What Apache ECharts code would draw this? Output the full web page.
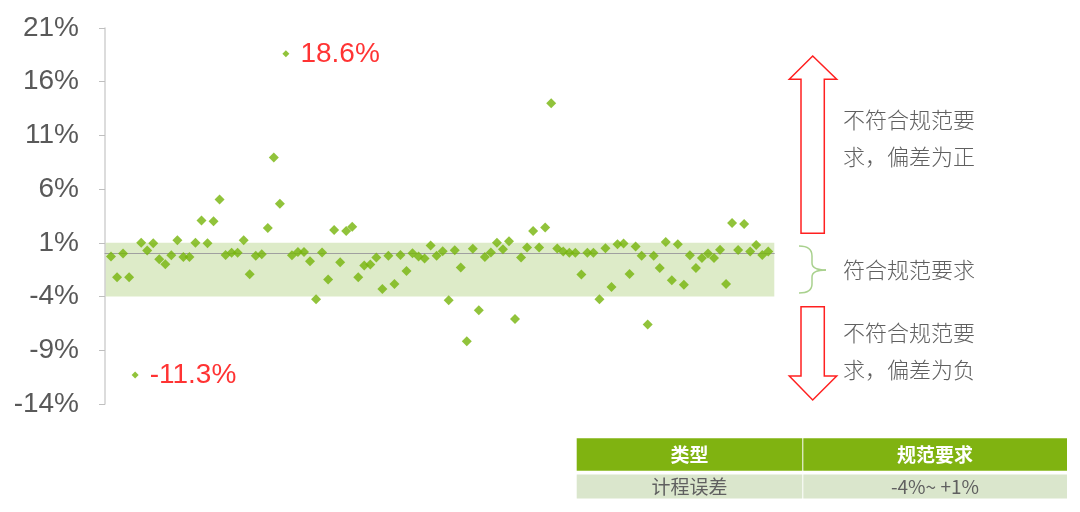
<!DOCTYPE html>
<html>
<head>
<meta charset="utf-8">
<script src="https://cdn.jsdelivr.net/npm/echarts@6/dist/echarts.min.js"></script>
<style>
html,body{margin:0;padding:0;background:#fff;}
#main{width:1080px;height:512px;}
</style>
</head>
<body>
<div id="main"></div>
<script>
// Deviation of each sample (%), in sample order 1..110
const deviations = [
  -0.28, -2.2, 0, -2.2, -11.3, 1.0, 0.28, 0.97, -0.52, -0.99,
  -0.15, 1.25, -0.31, -0.31, 1.02, 3.07, 0.97, 3.0, 5.03, -0.12,
  0.07, 0.07, 1.25, -1.92, -0.21, -0.06, 2.39, 8.94, 4.63, 18.6,
  -0.15, 0.16, 0.16, -0.71, -4.25, 0.1, -2.4, 2.2, -0.8, 2.11,
  2.51, -2.2, -1.11, -1.02, -0.37, -3.29, -0.19, -2.82, -0.12, -1.61,
  0.03, -0.28, -0.46, 0.75, -0.21, 0.22, -4.34, 0.31, -1.3, -8.16,
  0.44, -5.27, -0.31, 0.1, 1.02, 0.41, 1.15, -6.08, -0.37, 0.56,
  2.11, 0.56, 2.42, 14.0, 0.47, 0.19, 0.07, 0.07, -1.95, 0.07,
  0.07, -4.25, 0.5, -3.1, 0.87, 0.93, -1.89, 0.65, -0.21, -6.6,
  -0.21, -1.33, 1.09, -2.48, 0.87, -2.91, -0.15, -1.33, -0.4, 0,
  -0.4, 0.37, -2.82, 2.86, 0.34, 2.76, 0.19, 0.81, -0.12, 0.19
];
// Samples whose value is labelled (1-based sample number)
const labelledSamples = [5, 30];
// Tolerance band (%)
const bandLow = -4;
const bandHigh = 1;
// Y axis ticks
const yMin = -14, yMax = 21, yStep = 5;
// Table
const tableHeader = ['类型', '规范要求'];
const tableRow = ['计程误差', '-4%~ +1%'];
// Annotation texts
const noteUp = ['不符合规范要', '求，偏差为正'];
const noteMid = '符合规范要求';
const noteDown = ['不符合规范要', '求，偏差为负'];

const green = '#76B40A';
const textGray = '#595959';
const red = '#FF0000';
const font = 'Liberation Sans, Arial, sans-serif';
const cjk = '"Noto Sans CJK SC", sans-serif';

const scatterData = deviations.map((v, i) => {
  const n = i + 1;
  if (labelledSamples.indexOf(n) >= 0) {
    return {
      value: [n, v],
      symbolSize: 7,
      label: {
        show: true, position: 'right', distance: 11,
        formatter: (p) => p.value[1].toFixed(1) + '%',
        color: red, fontSize: 28, fontFamily: font
      }
    };
  }
  return { value: [n, v] };
});

const chart = echarts.init(document.getElementById('main'));

function textEl(x, y, t, opts) {
  return {
    type: 'text', x: x, y: y, z: 10,
    style: Object.assign({ text: t, fill: '#606060', font: '300 22px ' + cjk, textVerticalAlign: 'middle', textAlign: 'left' }, opts || {})
  };
}
const braceStyle = { fill: 'none', stroke: '#A9D18E', lineWidth: 1.5 };
function bez(x1, y1, cx, cy, x2, y2) {
  return { type: 'bezierCurve', z: 10, shape: { x1: x1, y1: y1, cpx1: cx, cpy1: cy, x2: x2, y2: y2 }, style: braceStyle };
}
function seg(x1, y1, x2, y2) {
  return { type: 'line', z: 10, shape: { x1: x1, y1: y1, x2: x2, y2: y2 }, style: braceStyle };
}

const graphics = [
  // up arrow
  { type: 'polygon', z: 10, shape: { points: [[812.7,56],[836.7,79.3],[824.3,79.3],[824.3,233.3],[801,233.3],[801,79.3],[789.3,79.3]] },
    style: { fill: '#fff', stroke: '#FF2020', lineWidth: 1.5 } },
  // down arrow
  { type: 'polygon', z: 10, shape: { points: [[801,306.7],[824.3,306.7],[824.3,376],[836.7,376],[812.7,400],[789.3,376],[801,376]] },
    style: { fill: '#fff', stroke: '#FF2020', lineWidth: 1.5 } },
  // brace
  bez(799, 246, 812, 246, 812, 256),
  seg(812, 256, 812, 263),
  bez(812, 263, 812, 270, 826, 270),
  bez(826, 270, 812, 270, 812, 277),
  seg(812, 277, 812, 284),
  bez(812, 284, 812, 293, 799, 293),
  textEl(843, 120, noteUp[0]),
  textEl(843, 157, noteUp[1]),
  textEl(843, 270, noteMid),
  textEl(843, 333, noteDown[0]),
  textEl(843, 370, noteDown[1]),
  // table
  { type: 'rect', z: 10, shape: { x: 576.7, y: 438.3, width: 225.6, height: 32.4 }, style: { fill: '#80B311' } },
  { type: 'rect', z: 10, shape: { x: 803.3, y: 438.3, width: 263.7, height: 32.4 }, style: { fill: '#80B311' } },
  { type: 'rect', z: 10, shape: { x: 576.7, y: 474.5, width: 225.6, height: 24 }, style: { fill: '#DAE6CC' } },
  { type: 'rect', z: 10, shape: { x: 803.3, y: 474.5, width: 263.7, height: 24 }, style: { fill: '#DAE6CC' } },
  textEl(689.5, 455, tableHeader[0], { fill: '#fff', font: 'bold 19px ' + cjk, textAlign: 'center' }),
  textEl(935, 455, tableHeader[1], { fill: '#fff', font: 'bold 19px ' + cjk, textAlign: 'center' }),
  textEl(689.5, 487, tableRow[0], { font: '19px ' + cjk, textAlign: 'center' }),
  textEl(935, 487, tableRow[1], { font: '19px ' + cjk, textAlign: 'center' })
];

chart.setOption({
  animation: false,
  backgroundColor: '#fff',
  grid: { left: 105, right: 305.7, top: 28, bottom: 108, containLabel: false },
  xAxis: {
    type: 'value', min: 0, max: 111, z: 1,
    axisLine: { show: true, onZero: true, lineStyle: { color: '#A0A0A0', width: 1 } },
    axisTick: { show: false }, axisLabel: { show: false }, splitLine: { show: false }
  },
  yAxis: {
    type: 'value', min: yMin, max: yMax, interval: yStep, z: 1,
    axisLine: { show: true, lineStyle: { color: '#D0D0D0', width: 1.5 } },
    axisTick: { show: true, inside: false, length: 6, lineStyle: { color: '#BFBFBF' } },
    axisLabel: { formatter: '{value}%', color: textGray, fontSize: 28, fontFamily: font, margin: 26 },
    splitLine: { show: false }
  },
  series: [
    {
      type: 'scatter', data: [], z: 0, silent: true,
      markArea: {
        silent: true,
        itemStyle: { color: '#DDEBC8', opacity: 1 },
        data: [[{ xAxis: 0, yAxis: bandHigh }, { xAxis: 111, yAxis: bandLow }]]
      }
    },
    {
      type: 'scatter', z: 3,
      symbol: 'diamond', symbolSize: 10,
      itemStyle: { color: green },
      data: scatterData
    }
  ],
  graphic: graphics
});
</script>
</body>
</html>
